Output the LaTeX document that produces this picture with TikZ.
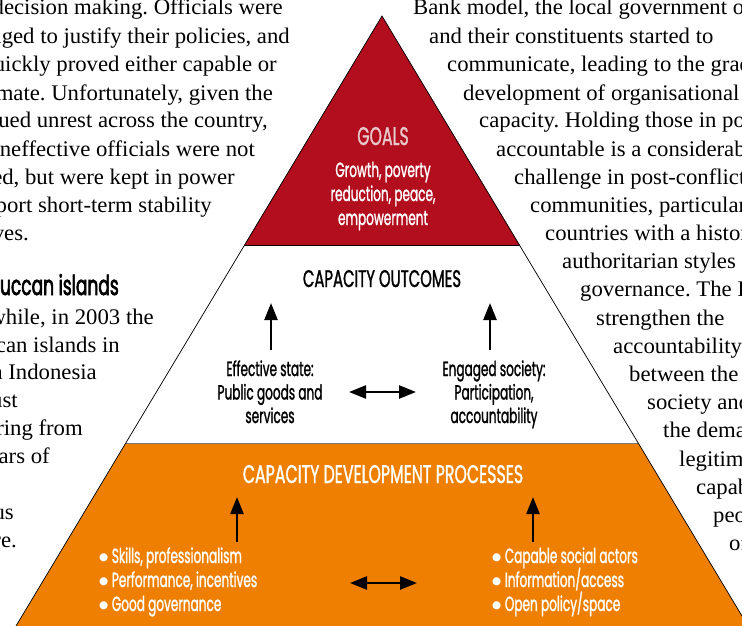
\documentclass[tikz,border=0pt]{standalone}
\usepackage{fontspec}
\setmainfont[FakeStretch=1.02]{Liberation Serif}
\newfontfamily\condA[FakeStretch=0.59,FakeBold=1.2]{Poppins}
\newfontfamily\condB[FakeStretch=0.62,FakeBold=1.2]{Poppins}
\newfontfamily\condH[FakeStretch=0.62,FakeBold=2.2]{Poppins}
\newfontfamily\symfont{DejaVu Sans}
\newcommand{\mybul}{\raisebox{2.6pt}{\symfont\fontsize{10.5}{10.5}\selectfont ●}\hspace{3.5pt}}
\usetikzlibrary{arrows.meta}
\definecolor{goalred}{RGB}{178,14,30}
\definecolor{procorange}{RGB}{238,127,0}
\definecolor{goalpink}{RGB}{232,200,202}
\definecolor{edgegrey}{RGB}{120,120,120}
\begin{document}
\frenchspacing
\begin{tikzpicture}[x=1pt,y=-1pt,
  body/.style={inner sep=0pt, font=\fontsize{22.3}{26}\selectfont},
  bodyL/.style={body, anchor=base east},
  bodyR/.style={body, anchor=base west},
  lab/.style={inner sep=0pt, anchor=base, font=\condA\fontsize{20.5}{24}\selectfont},
  labL/.style={lab, anchor=base west},
  head/.style={inner sep=0pt, anchor=base, font=\condB\fontsize{24}{28}\selectfont},
  tipA/.tip={Triangle[length=17pt,width=13pt]},
  uparrow/.style={line width=2.4pt, -tipA},
  dblarrow/.style={line width=2.4pt, tipA-tipA},
]
\useasboundingbox (0,0) rectangle (742,626);
\begin{scope}
\clip (0,0) rectangle (742,626);
\fill[white] (0,0) rectangle (742,626);
% pyramid bands
\fill[goalred] (382,16) -- (244,245.5) -- (520,245.5) -- cycle;
\fill[procorange] (125.8,443) -- (638.2,443) -- (756.4,640) -- (7.6,640) -- cycle;
\draw[edgegrey, line width=0.8pt] (125.8,443) -- (638.2,443);
\draw[black, line width=0.7pt] (244,245.5) -- (520,245.5);
\draw[black, line width=0.7pt] (7.6,640) -- (382,16) -- (756.4,640);

% left column text (cut by the page edge)
\node[bodyL] (l1) at (283,15) {in decision making. Officials were};
\node[bodyL] (l2) at (290,43.5) {obliged to justify their policies, and};
\node[bodyL] (l3) at (277,71.5) {quickly proved either capable or};
\node[bodyL] (l4) at (273,100) {illegitimate. Unfortunately, given the};
\node[bodyL] (l5) at (268,128) {continued unrest across the country,};
\node[bodyL] (l6) at (255,156.5) {ineffective officials were not};
\node[bodyL] (l7) at (235,184.5) {removed, but were kept in power};
\node[bodyL] (l8) at (212,212.5) {to support short-term stability};
\node[bodyL] (l9) at (29,240.5) {objectives.};
\node[inner sep=0pt, anchor=base east, font=\condH\fontsize{27.5}{30}\selectfont] (mh) at (119,295) {Moluccan islands};
\node[bodyL] (m1) at (154,324) {Meanwhile, in 2003 the};
\node[bodyL] (m2) at (120,352) {Moluccan islands in};
\node[bodyL] (m3) at (97,379.5) {eastern Indonesia};
\node[bodyL] (m4) at (18,407) {were just};
\node[bodyL] (m5) at (83,435) {recovering from};
\node[bodyL] (m6) at (50,463) {years of};
\node[bodyL] (m7) at (14,519.5) {previous};
\node[bodyL] (m8) at (17,547) {structure.};

% right column text (cut by the page edge)
\node[bodyR] (r1) at (413,15) {Bank model, the local government of};
\node[bodyR] (r2) at (429,43.5) {and their constituents started to};
\node[bodyR] (r3) at (447,71.5) {communicate, leading to the gradual};
\node[bodyR] (r4) at (463,100) {development of organisational};
\node[bodyR] (r5) at (479,128) {capacity. Holding those in power};
\node[bodyR] (r6) at (496,156.5) {accountable is a considerable};
\node[bodyR] (r7) at (514,184.5) {challenge in post-conflict};
\node[bodyR] (r8) at (530,212.5) {communities, particularly};
\node[bodyR] (r9) at (545,240.5) {countries with a history};
\node[bodyR] (r10) at (562,268.5) {authoritarian styles};
\node[bodyR] (r11) at (580,296.5) {governance. The I};
\node[bodyR] (r12) at (596,325) {strengthen the};
\node[bodyR] (r13) at (613,353) {accountability};
\node[bodyR] (r14) at (629,381) {between the};
\node[bodyR] (r15) at (647,409.5) {society and};
\node[bodyR] (r16) at (663,437.5) {the demand};
\node[bodyR] (r17) at (679,466) {legitimacy};
\node[bodyR] (r18) at (696,494) {capable};
\node[bodyR] (r19) at (713,522) {people};
\node[bodyR] (r20) at (729,550) {of};
\end{scope}

% GOALS
\node[head, text=goalpink, font=\condB\fontsize{25.5}{28}\selectfont] (goals) at (383,145) {GOALS};
\node[lab, text=white] (g1) at (383,177) {Growth, poverty};
\node[lab, text=white] (g2) at (383,201) {reduction, peace,};
\node[lab, text=white] (g3) at (383,225) {empowerment};

% CAPACITY OUTCOMES
\node[head] (outc) at (382,287) {CAPACITY OUTCOMES};
\node[lab] (e1) at (270,376) {Effective state:};
\node[lab] (e2) at (270,399.5) {Public goods and};
\node[lab] (e3) at (270,423) {services};
\node[lab] (s1) at (494,376) {Engaged society:};
\node[lab] (s2) at (494,399.5) {Participation,};
\node[lab] (s3) at (494,423) {accountability};
\coordinate (ea0) at (271,350);
\coordinate (ea1) at (271,303);
\coordinate (sa0) at (490,350);
\coordinate (sa1) at (490,303);
\coordinate (da0) at (349,392);
\coordinate (da1) at (416,392);
\draw[uparrow] (ea0) -- (ea1);
\draw[uparrow] (sa0) -- (sa1);
\draw[dblarrow] (da0) -- (da1);

% CAPACITY DEVELOPMENT PROCESSES
\node[head, text=white, font=\condB\fontsize{25.5}{28}\selectfont] (proc) at (383,483) {CAPACITY DEVELOPMENT PROCESSES};
\node[labL, text=white] (p1) at (99,563) {\mybul Skills, professionalism};
\node[labL, text=white] (p2) at (99,587) {\mybul Performance, incentives};
\node[labL, text=white] (p3) at (99,611) {\mybul Good governance};
\node[labL, text=white] (q1) at (492,563) {\mybul Capable social actors};
\node[labL, text=white] (q2) at (492,587) {\mybul Information/access};
\node[labL, text=white] (q3) at (492,611) {\mybul Open policy/space};
\coordinate (pa0) at (237,542);
\coordinate (pa1) at (237,497);
\coordinate (qa0) at (533,542);
\coordinate (qa1) at (533,497);
\coordinate (pd0) at (350,583);
\coordinate (pd1) at (417,583);
\draw[uparrow] (pa0) -- (pa1);
\draw[uparrow] (qa0) -- (qa1);
\draw[dblarrow] (pd0) -- (pd1);
\end{tikzpicture}
\end{document}
